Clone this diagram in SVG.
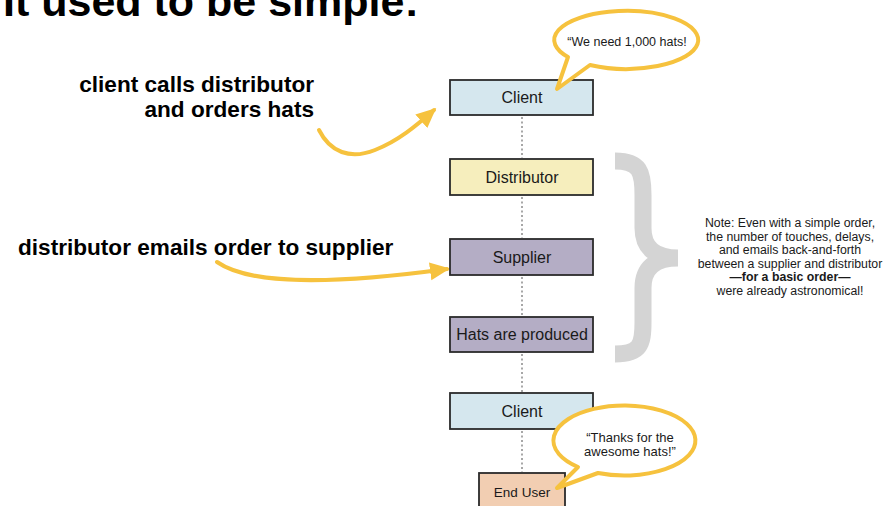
<svg xmlns="http://www.w3.org/2000/svg" width="890" height="506" viewBox="0 0 890 506">
<style>
.box{stroke:#2b2b2b;stroke-width:1.8}
.bt{font-family:"Liberation Sans",Arial,sans-serif;font-size:16px;fill:#1a1a1a;text-anchor:middle}
.lbl{font-family:"Liberation Sans",Arial,sans-serif;font-size:22.6px;font-weight:bold;fill:#000}
.dot{stroke:#8a8a8a;stroke-width:1.5;stroke-dasharray:2 2.5;fill:none}
.arr{stroke:#f6c23e;stroke-width:4;fill:none;stroke-linecap:round}
.bub{fill:#fff;stroke:#f6c23e;stroke-width:4;stroke-linejoin:round}
.note{font-family:"Liberation Sans",Arial,sans-serif;font-size:12.3px;fill:#1a1a1a;text-anchor:middle}
.bubt{font-family:"Liberation Sans",Arial,sans-serif;fill:#1a1a1a;text-anchor:middle}
</style>
<defs>
<marker id="ah" markerUnits="userSpaceOnUse" markerWidth="22" markerHeight="20" refX="17" refY="10" orient="auto">
<path d="M0,1 L20,10 L0,19 Z" fill="#f6c23e"/>
</marker>
</defs>
<rect width="890" height="506" fill="#fff"/>
<text x="3" y="16" font-family="Liberation Sans,Arial,sans-serif" font-size="43" font-weight="bold" fill="#000">It used to be simple:</text>

<g id="connectors">
<line class="dot" x1="522" y1="117" x2="522" y2="158"/>
<line class="dot" x1="522" y1="197" x2="522" y2="238"/>
<line class="dot" x1="522" y1="277" x2="522" y2="316"/>
<line class="dot" x1="522" y1="354" x2="522" y2="392"/>
<line class="dot" x1="522" y1="431" x2="522" y2="472"/>
<path class="arr" d="M319,130 C330,152 350,160 375,150 C398,141 416,126 434,110" marker-end="url(#ah)"/>
<path class="arr" d="M217,262 C250,285 330,285 447,269" marker-end="url(#ah)"/>
</g>

<g id="brace">
<path d="M615,161 C640,161 643,172 643,195 L643,228 C643,248 655,258 678,258 C655,258 643,268 643,288 L643,322 C643,345 640,354 615,354" fill="none" stroke="#d4d4d4" stroke-width="17"/>
</g>

<g id="client1">
<rect class="box" x="450" y="80" width="143" height="35" fill="#d5e7ee"/>
<text class="bt" x="522" y="103">Client</text>
</g>
<g id="bubble1">
<path class="bub" d="M568,57 L557,89 L590,65 A72,29 0 1 0 568,57 Z"/>
<text class="bubt" x="627" y="46" font-size="12.5">“We need 1,000 hats!</text>
</g>
<g id="distributor">
<rect class="box" x="450" y="159" width="143" height="36" fill="#f6eebd"/>
<text class="bt" x="522" y="183">Distributor</text>
</g>
<g id="supplier">
<rect class="box" x="450" y="239" width="143" height="36" fill="#b4adc5"/>
<text class="bt" x="522" y="263">Supplier</text>
</g>
<g id="hats">
<rect class="box" x="450" y="317" width="143" height="35" fill="#b4adc5"/>
<text class="bt" x="522" y="340">Hats are produced</text>
</g>
<g id="client2">
<rect class="box" x="450" y="393" width="143" height="36" fill="#d5e7ee"/>
<text class="bt" x="522" y="417">Client</text>
</g>
<g id="enduser">
<rect class="box" x="479" y="473" width="86" height="40" fill="#f2ceb2"/>
<text class="bt" x="522" y="497" style="font-size:13.5px">End User</text>
</g>
<g id="bubble2">
<path class="bub" d="M578,467 L557,488 L598,473 A71,35 0 1 0 578,467 Z"/>
<text class="bubt" x="630" y="442" font-size="13">“Thanks for the</text>
<text class="bubt" x="630" y="456" font-size="13">awesome hats!”</text>
</g>

<g id="label1">
<text class="lbl" x="314" y="92" text-anchor="end">client calls distributor</text>
<text class="lbl" x="314" y="117" text-anchor="end">and orders hats</text>
</g>
<g id="label2">
<text class="lbl" x="18" y="255">distributor emails order to supplier</text>
</g>
<g id="note">
<text class="note" x="790" y="227">Note: Even with a simple order,</text>
<text class="note" x="790" y="240.5">the number of touches, delays,</text>
<text class="note" x="790" y="254">and emails back-and-forth</text>
<text class="note" x="790" y="267.5">between a supplier and distributor</text>
<text class="note" x="790" y="281" font-weight="bold">—for a basic order—</text>
<text class="note" x="790" y="294.5">were already astronomical!</text>
</g>
</svg>
